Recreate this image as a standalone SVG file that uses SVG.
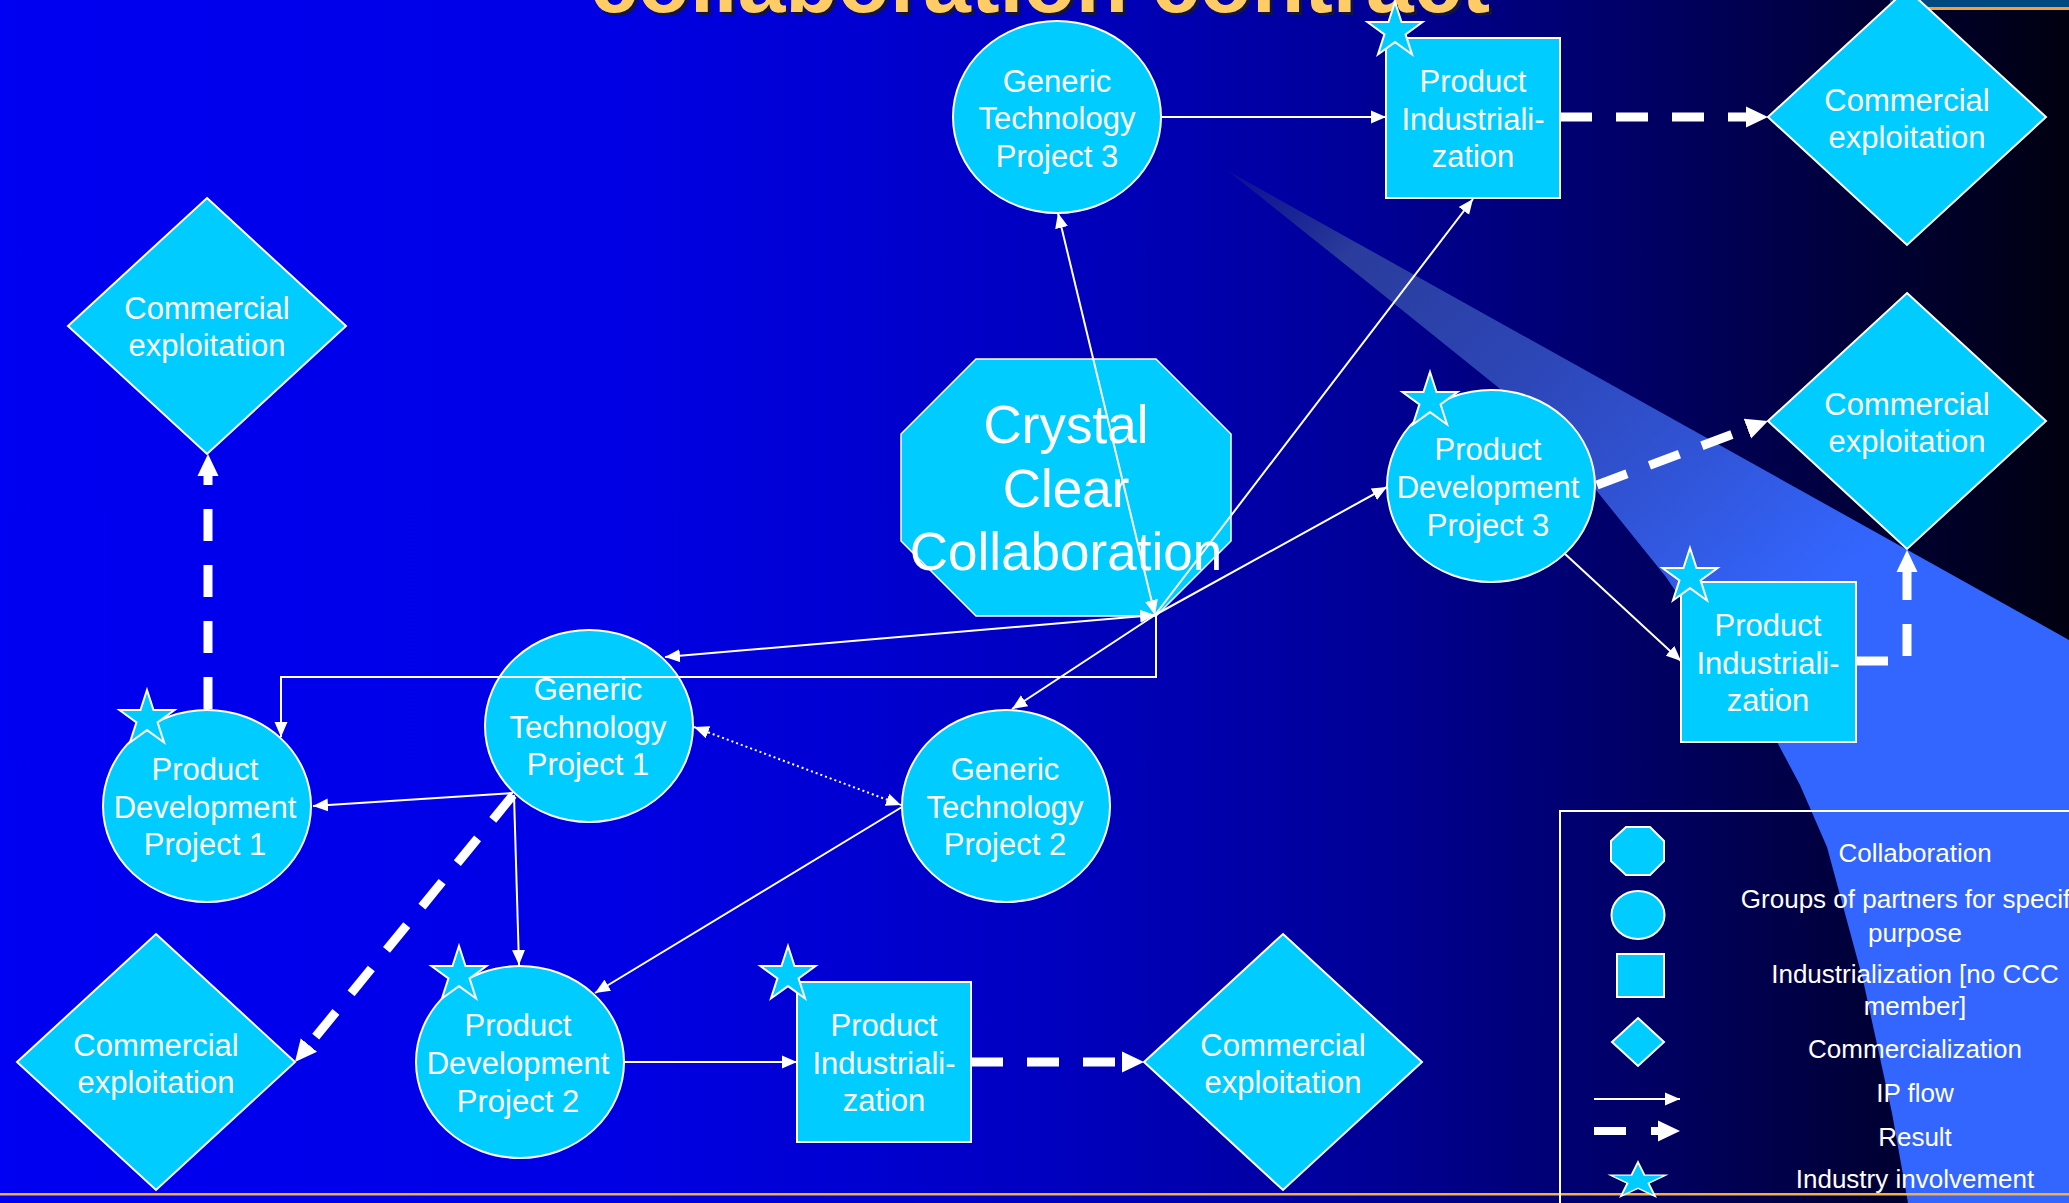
<svg xmlns="http://www.w3.org/2000/svg" xmlns:xlink="http://www.w3.org/1999/xlink" width="2069" height="1203" viewBox="0 0 2069 1203">
<defs>
<linearGradient id="bg" x1="0" y1="0" x2="1" y2="0">
<stop offset="0" stop-color="#0000F2"/>
<stop offset="0.3" stop-color="#0000E4"/>
<stop offset="0.5" stop-color="#0000C2"/>
<stop offset="0.65" stop-color="#00009A"/>
<stop offset="0.8" stop-color="#000062"/>
<stop offset="0.92" stop-color="#000030"/>
<stop offset="1" stop-color="#000010"/>
</linearGradient>
<linearGradient id="beam" gradientUnits="userSpaceOnUse" x1="1228" y1="171" x2="1700" y2="700">
<stop offset="0" stop-color="#223080" stop-opacity="0.3"/>
<stop offset="0.2" stop-color="#2A3C9C"/>
<stop offset="0.5" stop-color="#2D47B8"/>
<stop offset="0.75" stop-color="#3155D8"/>
<stop offset="1" stop-color="#3366FF"/>
</linearGradient>
<marker id="ipA" viewBox="0 -7 16 14" refX="15" refY="0" markerWidth="16" markerHeight="14" markerUnits="userSpaceOnUse" orient="auto-start-reverse">
<path d="M0,-6.5 L15,0 L0,6.5 Z" fill="#fff"/>
</marker>
<marker id="resA" viewBox="0 -12 24 24" refX="0" refY="0" markerWidth="24" markerHeight="24" markerUnits="userSpaceOnUse" orient="auto">
<path d="M0,-10.5 L22,0 L0,10.5 Z" fill="#fff"/>
</marker>
<path id="star" d="M0,-29 L6.52,-8.98 L27.58,-8.96 L10.56,3.43 L17.05,23.46 L0,11.1 L-17.05,23.46 L-10.56,3.43 L-27.58,-8.96 L-6.52,-8.98 Z"/>
</defs>
<style>
.node{fill:#00CCFF;stroke:#fff;stroke-width:2}
.oct{fill:#00CCFF;stroke:#fff;stroke-width:1.5}
.star{fill:#00CCFF;stroke:#fff;stroke-width:2}
.lbl{font-family:"Liberation Sans",Arial,sans-serif;font-size:31px;fill:#fff;text-anchor:middle}
.big{font-family:"Liberation Sans",Arial,sans-serif;font-size:53px;fill:#fff;text-anchor:middle}
.leg{font-family:"Liberation Sans",Arial,sans-serif;font-size:26px;fill:#fff;text-anchor:middle}
.ip{stroke:#fff;stroke-width:2;fill:none;marker-end:url(#ipA)}
.bi{marker-start:url(#ipA)}
.dot{stroke-dasharray:2 3}
.res{stroke:#fff;stroke-width:9;fill:none;stroke-dasharray:32 24;marker-end:url(#resA)}
.title{font-family:"Liberation Sans",Arial,sans-serif;font-size:86px;font-weight:bold;text-anchor:middle}
</style>

<rect x="0" y="0" width="2069" height="1203" fill="url(#bg)"/>
<path d="M1228,171 L2069,640 L2069,1203 L1908,1203 L1892,1113 L1863,980 L1827,847 L1800,785 L1776,740 L1666,577 L1596,490 L1499,388 L1366,281 Z" fill="url(#beam)"/>

<g id="title">
<text class="title" x="1043" y="15" fill="#14143C" textLength="900" lengthAdjust="spacingAndGlyphs">collaboration contract</text>
<text class="title" x="1040" y="12" fill="#FFCC66" textLength="900" lengthAdjust="spacingAndGlyphs">collaboration contract</text>
</g>
<g id="topbar">
<rect x="1890" y="0" width="179" height="7" fill="#004880"/>
<rect x="1890" y="7" width="179" height="3" fill="#F5A030"/>
</g>
<rect x="0" y="1193" width="2069" height="2.5" fill="#F5B043"/>

<g id="crystal-clear">
<polygon class="oct" points="976,359 1156,359 1231,434 1231,541 1156,616 976,616 901,541 901,434"/>
<text class="big" x="1066" y="443">Crystal</text>
<text class="big" x="1066" y="507">Clear</text>
<text class="big" x="1066" y="570">Collaboration</text>
</g>

<g id="gtp3">
<ellipse class="node" cx="1057" cy="117" rx="104" ry="96"/>
<text class="lbl" x="1057" y="92">Generic</text>
<text class="lbl" x="1057" y="129">Technology</text>
<text class="lbl" x="1057" y="167">Project 3</text>
</g>
<g id="pi-top">
<rect class="node" x="1386" y="38" width="174" height="160"/>
<use href="#star" class="star" x="1395" y="31"/>
<text class="lbl" x="1473" y="92">Product</text>
<text class="lbl" x="1473" y="130">Industriali-</text>
<text class="lbl" x="1473" y="167">zation</text>
</g>
<g id="ce-top">
<polygon class="node" points="1907,-11 2046,117 1907,245 1768,117"/>
<text class="lbl" x="1907" y="111">Commercial</text>
<text class="lbl" x="1907" y="148">exploitation</text>
</g>
<g id="ce-left">
<polygon class="node" points="207,198 346,326 207,454 68,326"/>
<text class="lbl" x="207" y="319">Commercial</text>
<text class="lbl" x="207" y="356">exploitation</text>
</g>
<g id="gtp1">
<ellipse class="node" cx="589" cy="726" rx="104" ry="96"/>
<text class="lbl" x="588" y="700">Generic</text>
<text class="lbl" x="588" y="738">Technology</text>
<text class="lbl" x="588" y="775">Project 1</text>
</g>
<g id="gtp2">
<ellipse class="node" cx="1006" cy="806" rx="104" ry="96"/>
<text class="lbl" x="1005" y="780">Generic</text>
<text class="lbl" x="1005" y="818">Technology</text>
<text class="lbl" x="1005" y="855">Project 2</text>
</g>
<g id="pdp1">
<ellipse class="node" cx="207" cy="806" rx="104" ry="96"/>
<use href="#star" class="star" x="147" y="719"/>
<text class="lbl" x="205" y="780">Product</text>
<text class="lbl" x="205" y="818">Development</text>
<text class="lbl" x="205" y="855">Project 1</text>
</g>
<g id="pdp2">
<ellipse class="node" cx="520" cy="1062" rx="104" ry="96"/>
<use href="#star" class="star" x="459" y="975"/>
<text class="lbl" x="518" y="1036">Product</text>
<text class="lbl" x="518" y="1074">Development</text>
<text class="lbl" x="518" y="1112">Project 2</text>
</g>
<g id="pdp3">
<ellipse class="node" cx="1491" cy="486" rx="104" ry="96"/>
<use href="#star" class="star" x="1430" y="401"/>
<text class="lbl" x="1488" y="460">Product</text>
<text class="lbl" x="1488" y="498">Development</text>
<text class="lbl" x="1488" y="536">Project 3</text>
</g>
<g id="pi-mid">
<rect class="node" x="1681" y="582" width="175" height="160"/>
<use href="#star" class="star" x="1690" y="577"/>
<text class="lbl" x="1768" y="636">Product</text>
<text class="lbl" x="1768" y="674">Industriali-</text>
<text class="lbl" x="1768" y="711">zation</text>
</g>
<g id="ce-mid">
<polygon class="node" points="1907,293 2046,421 1907,549 1768,421"/>
<text class="lbl" x="1907" y="415">Commercial</text>
<text class="lbl" x="1907" y="452">exploitation</text>
</g>
<g id="pi-bot">
<rect class="node" x="797" y="982" width="174" height="160"/>
<use href="#star" class="star" x="788" y="975"/>
<text class="lbl" x="884" y="1036">Product</text>
<text class="lbl" x="884" y="1074">Industriali-</text>
<text class="lbl" x="884" y="1111">zation</text>
</g>
<g id="ce-bot-mid">
<polygon class="node" points="1283,934 1422,1062 1283,1190 1144,1062"/>
<text class="lbl" x="1283" y="1056">Commercial</text>
<text class="lbl" x="1283" y="1093">exploitation</text>
</g>
<g id="ce-bot-left">
<polygon class="node" points="156,934 295,1062 156,1190 17,1062"/>
<text class="lbl" x="156" y="1056">Commercial</text>
<text class="lbl" x="156" y="1093">exploitation</text>
</g>

<g id="connectors">
<path class="ip" d="M1161,117 L1386,117"/>
<path class="ip bi" d="M1155,615 L1058,213"/>
<path class="ip" d="M1155,615 L1473,199"/>
<path class="ip" d="M1155,615 L1387,487"/>
<path class="ip bi" d="M1155,615 L665,657"/>
<path class="ip" d="M1155,615 L1012,709"/>
<path class="ip" d="M1156,615 L1156,677 L281,677 L281,737"/>
<path class="ip" d="M513,793 L313,806"/>
<path class="ip" d="M514,795 L519,965"/>
<path class="ip" d="M902,807 L595,993"/>
<path class="ip bi dot" d="M694,727 L901,805"/>
<path class="ip" d="M624,1062 L797,1062"/>
<path class="ip" d="M1564,553 L1681,661"/>
<path class="res" d="M1560,117 L1746,117"/>
<path class="res" d="M1597,485 L1747.4,428.7"/>
<path class="res" d="M1856,661 L1907,661 L1907,572"/>
<path class="res" d="M208,709 L208,476"/>
<path class="res" d="M513,795 L308.9,1045"/>
<path class="res" d="M971,1062 L1122,1062"/>
</g>

<g id="legend">
<rect x="1560" y="811" width="520" height="400" fill="none" stroke="#fff" stroke-width="2"/>
<polygon class="node" points="1626,827 1650,827 1664,841 1664,861 1650,875 1626,875 1611,861 1611,841"/>
<ellipse class="node" cx="1638" cy="915" rx="26.5" ry="24"/>
<rect class="node" x="1617" y="954" width="47" height="43"/>
<polygon class="node" points="1638,1018 1664,1042 1638,1066 1612,1042"/>
<path class="ip" d="M1594,1099 L1680,1099"/>
<path class="res" d="M1594,1131 L1658,1131" style="stroke-width:8;stroke-dasharray:32 25"/>
<use href="#star" class="star" transform="translate(1638,1181) scale(1,0.65)"/>
<text class="leg" x="1915" y="862">Collaboration</text>
<text class="leg" x="1915" y="908">Groups of partners for specific</text>
<text class="leg" x="1915" y="942">purpose</text>
<text class="leg" x="1915" y="983">Industrialization [no CCC</text>
<text class="leg" x="1915" y="1015">member]</text>
<text class="leg" x="1915" y="1058">Commercialization</text>
<text class="leg" x="1915" y="1102">IP flow</text>
<text class="leg" x="1915" y="1146">Result</text>
<text class="leg" x="1915" y="1188">Industry involvement</text>
</g>
</svg>
